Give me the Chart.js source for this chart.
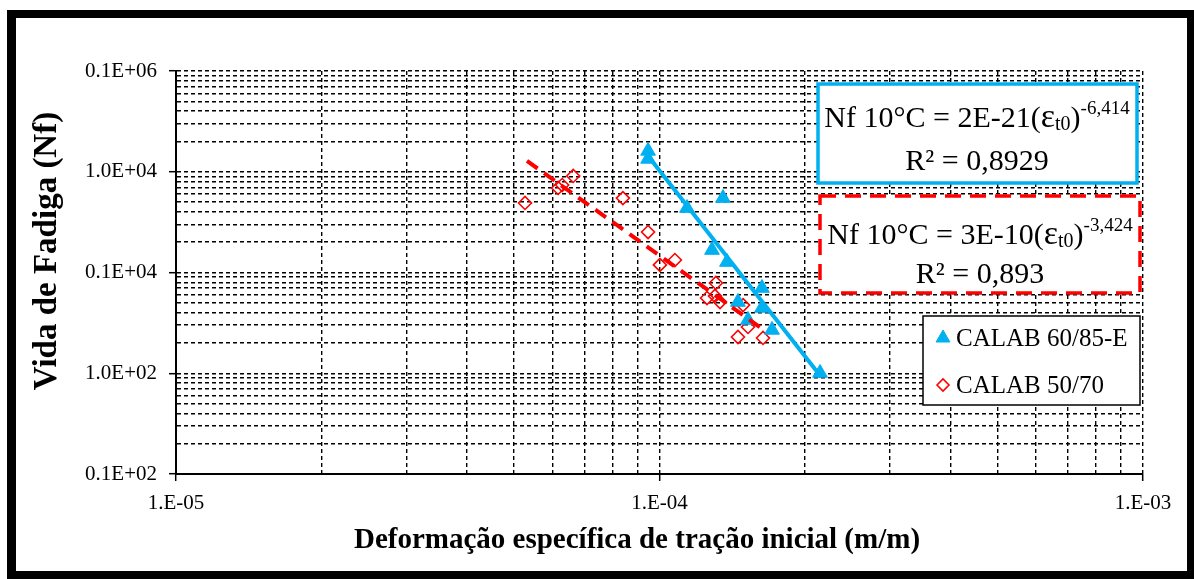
<!DOCTYPE html>
<html>
<head>
<meta charset="utf-8">
<script src="https://cdn.jsdelivr.net/npm/chart.js@4"></script>
<style>
  html, body { margin: 0; padding: 0; background: #fff; }
  #wrap { position: relative; width: 1194px; height: 579px; overflow: hidden; }
  #frame { position: absolute; left: 7px; top: 10px; width: 1189px; height: 570px;
           border: 9px solid #000; border-top-width: 8px; box-sizing: border-box; pointer-events: none; }
</style>
</head>
<body>
<div id="wrap">
  <canvas id="fadiga" width="1194" height="579"></canvas>
  <div id="frame"></div>
</div>
<script>
"use strict";

/* --- dados --- */

const xTickValues = [1e-5, 1e-4, 1e-3];
const xTickLabels = ['1.E-05', '1.E-04', '1.E-03'];
const yTickValues = [1e2, 1e3, 1e4, 1e5, 1e6];
const yTickLabels = ['0.1E+02', '1.0E+02', '0.1E+04', '1.0E+04', '0.1E+06'];

// CALAB 60/85-E
const calab6085Strain = [9.47e-5, 9.47e-5, 1.353e-4, 1.140e-4, 1.284e-4, 1.379e-4, 1.629e-4, 1.629e-4, 1.453e-4, 1.524e-4, 1.709e-4, 2.148e-4];
const calab6085Nf     = [1.61e5, 1.34e5, 5.48e4, 4.36e4, 1.67e4, 1.27e4, 7.01e3, 4.45e3, 5.09e3, 3.38e3, 2.69e3, 1.006e3];

// CALAB 50/70
const calab5070Strain = [5.27e-5, 6.29e-5, 6.17e-5, 6.63e-5, 8.40e-5, 9.47e-5, 1.002e-4, 1.076e-4, 1.308e-4, 1.254e-4, 1.334e-4, 1.302e-4, 1.489e-4, 1.524e-4, 1.453e-4, 1.637e-4];
const calab5070Nf     = [4.90e4, 7.38e4, 6.90e4, 9.08e4, 5.48e4, 2.52e4, 1.19e4, 1.33e4, 7.87e3, 5.58e3, 5.09e3, 5.85e3, 4.75e3, 2.88e3, 2.29e3, 2.24e3];

// linhas de tendencia (potencia)
const fit6085Strain = [9.47e-5, 2.16e-4];
const fit6085Nf     = [1.43e5, 918];
const fit5070Strain = [5.32e-5, 1.66e-4];
const fit5070Nf     = [1.28e5, 2600];

const seriesNames = ['CALAB 60/85-E', 'CALAB 50/70'];

const BLUE = '#00B0F0';
const RED = '#FF0000';
const SERIF = '"Liberation Serif", "Times New Roman", serif';

function toPoints(xs, ys) {
  return xs.map((x, i) => ({ x: x, y: ys[i] }));
}

// grade log: 1..9 em cada decada
function logTicks(min, max) {
  const out = [];
  for (let e = Math.round(Math.log10(min)); e < Math.round(Math.log10(max)); e++) {
    for (let m = 1; m < 10; m++) out.push({ value: m * Math.pow(10, e), major: m === 1 });
  }
  out.push({ value: max, major: true });
  return out;
}

function pickLabel(v, values, labels) {
  const i = values.findIndex(t => Math.abs(Math.log10(t) - Math.log10(v)) < 1e-6);
  return i >= 0 ? labels[i] : '';
}

/* --- texto com sub/sobrescrito --- */

function drawRich(ctx, segs, cx, y) {
  let w = 0;
  segs.forEach(s => { ctx.font = s.size + 'px ' + SERIF; w += ctx.measureText(s.t).width; });
  let x = cx - w / 2;
  ctx.textAlign = 'left';
  ctx.textBaseline = 'alphabetic';
  segs.forEach(s => {
    ctx.font = s.size + 'px ' + SERIF;
    ctx.fillText(s.t, x, y + (s.dy || 0));
    x += ctx.measureText(s.t).width;
  });
}

const extras = {
  id: 'extras',
  afterDraw(chart) {
    const ctx = chart.ctx;
    ctx.save();
    ctx.fillStyle = '#000';

    // titulos dos eixos
    ctx.font = 'bold 29px ' + SERIF;
    ctx.textAlign = 'center';
    ctx.textBaseline = 'middle';
    ctx.fillText('Deformação específica de tração inicial (m/m)', 637, 541);
    ctx.save();
    ctx.translate(47, 251);
    ctx.rotate(-Math.PI / 2);
    ctx.font = 'bold 33px ' + SERIF;
    ctx.fillText('Vida de Fadiga (Nf)', 0, 0);
    ctx.restore();

    // caixa equacao 60/85-E
    ctx.fillStyle = '#fff';
    ctx.fillRect(818, 84, 319, 99);
    ctx.strokeStyle = BLUE;
    ctx.lineWidth = 3.5;
    ctx.strokeRect(818, 84, 319, 99);
    ctx.fillStyle = '#000';
    drawRich(ctx, [
      { t: 'Nf 10°C = 2E-21(', size: 30 },
      { t: 'ε', size: 34 },
      { t: 't0', size: 20, dy: 3 },
      { t: ')', size: 30 },
      { t: '-6,414', size: 19, dy: -13 }
    ], 977, 127);
    drawRich(ctx, [{ t: 'R² = 0,8929', size: 30 }], 977, 170);

    // caixa equacao 50/70
    ctx.fillStyle = '#fff';
    ctx.fillRect(820, 196, 320, 97);
    ctx.strokeStyle = RED;
    ctx.lineWidth = 3.5;
    ctx.setLineDash([16, 9]);
    ctx.strokeRect(820, 196, 320, 97);
    ctx.setLineDash([]);
    ctx.fillStyle = '#000';
    drawRich(ctx, [
      { t: 'Nf 10°C = 3E-10(', size: 30 },
      { t: 'ε', size: 34 },
      { t: 't0', size: 20, dy: 3 },
      { t: ')', size: 30 },
      { t: '-3,424', size: 19, dy: -13 }
    ], 980, 244);
    drawRich(ctx, [{ t: 'R² = 0,893', size: 30 }], 980, 283);

    // legenda
    ctx.fillStyle = '#fff';
    ctx.fillRect(923, 316, 217, 89);
    ctx.strokeStyle = '#000';
    ctx.lineWidth = 1.5;
    ctx.strokeRect(923, 316, 217, 89);
    const items = [chart.data.datasets[2], chart.data.datasets[3]];
    items.forEach((ds, i) => {
      const y = 338 + i * 47;
      ctx.save();
      ctx.fillStyle = ds.backgroundColor;
      ctx.strokeStyle = ds.borderColor;
      ctx.lineWidth = ds.borderWidth;
      Chart.helpers.drawPoint(ctx, {
        pointStyle: ds.pointStyle, radius: i === 0 ? 8 : 6, borderWidth: ds.borderWidth
      }, 943, y);
      ctx.restore();
      ctx.fillStyle = '#000';
      ctx.font = '25px ' + SERIF;
      ctx.textAlign = 'left';
      ctx.textBaseline = 'middle';
      ctx.fillText(ds.label, 956, y + 1);
    });
    ctx.restore();
  }
};

const whiteBg = {
  id: 'whiteBg',
  beforeDraw(chart) {
    const ctx = chart.ctx;
    ctx.save();
    ctx.fillStyle = '#fff';
    ctx.fillRect(0, 0, chart.width, chart.height);
    ctx.restore();
  }
};

const gridOpts = {
  color: '#000',
  lineWidth: 1.4,
  tickLength: 7,
  tickColor: c => (c.tick && c.tick.major ? '#000' : 'rgba(0,0,0,0)'),
  tickWidth: 1.5
};

const fadiga = document.getElementById('fadiga');

const fadiga_chart = new Chart(fadiga, {
  type: 'scatter',
  data: {
    datasets: [
      {
        label: 'fit 60/85-E',
        data: toPoints(fit6085Strain, fit6085Nf),
        showLine: true,
        borderColor: BLUE,
        borderWidth: 4,
        pointRadius: 0
      },
      {
        label: 'fit 50/70',
        data: toPoints(fit5070Strain, fit5070Nf),
        showLine: true,
        borderColor: RED,
        borderWidth: 4,
        borderDash: [13, 8],
        pointRadius: 0
      },
      {
        label: seriesNames[0],
        data: toPoints(calab6085Strain, calab6085Nf),
        pointStyle: 'triangle',
        pointRadius: 8.5,
        backgroundColor: BLUE,
        borderColor: BLUE,
        borderWidth: 1
      },
      {
        label: seriesNames[1],
        data: toPoints(calab5070Strain, calab5070Nf),
        pointStyle: 'rectRot',
        pointRadius: 6.5,
        backgroundColor: 'rgba(255,255,255,0)',
        borderColor: RED,
        borderWidth: 1.6
      }
    ]
  },
  options: {
    responsive: false,
    animation: false,
    layout: {
      padding: { left: 0, right: 51, top: 71, bottom: 0 }
    },
    plugins: {
      legend: { display: false },
      tooltip: { enabled: false }
    },
    scales: {
      x: {
        type: 'logarithmic',
        min: 1e-5,
        max: 1e-3,
        afterBuildTicks: s => { s.ticks = logTicks(1e-5, 1e-3); },
        afterFit: s => { s.height = 105; },
        grid: gridOpts,
        border: { display: true, color: '#000', width: 2, dash: [4, 3] },
        ticks: {
          autoSkip: false,
          maxRotation: 0,
          padding: 10,
          color: '#000',
          font: { family: SERIF, size: 21 },
          callback: (v, i, t) => pickLabel(t[i].value, xTickValues, xTickLabels)
        }
      },
      y: {
        type: 'logarithmic',
        min: 1e2,
        max: 1e6,
        afterBuildTicks: s => { s.ticks = logTicks(1e2, 1e6); },
        afterFit: s => { s.width = 176; },
        grid: gridOpts,
        border: { display: true, color: '#000', width: 2, dash: [4, 3] },
        ticks: {
          autoSkip: false,
          padding: 12,
          color: '#000',
          font: { family: SERIF, size: 21 },
          callback: (v, i, t) => pickLabel(t[i].value, yTickValues, yTickLabels)
        }
      }
    }
  },
  plugins: [whiteBg, extras]
});
</script>
</body>
</html>
